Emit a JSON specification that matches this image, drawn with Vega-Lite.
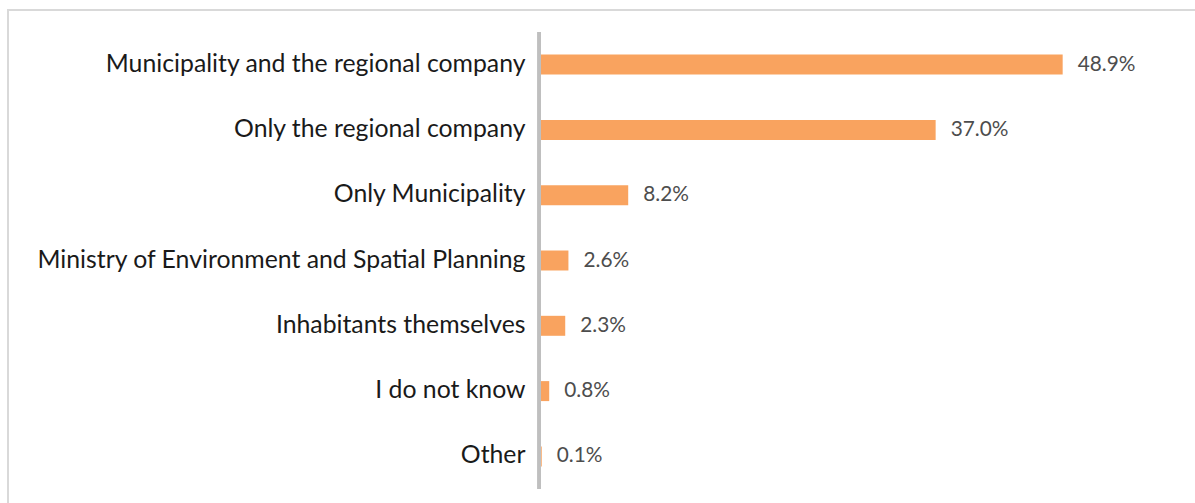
{
  "$schema": "https://vega.github.io/schema/vega-lite/v6.json",
  "width": 1188,
  "height": 501,
  "padding": {"left": 8, "top": 10, "right": 0, "bottom": 0},
  "autosize": {"type": "none"},
  "background": "white",
  "config": {
    "view": {"stroke": "#D9D9D9", "strokeWidth": 2},
    "font": "Lato"
  },
  "data": {
    "values": [
      {"category": "Municipality and the regional company", "share": 0.489},
      {"category": "Only the regional company", "share": 0.370},
      {"category": "Only Municipality", "share": 0.082},
      {"category": "Ministry of Environment and Spatial Planning", "share": 0.026},
      {"category": "Inhabitants themselves", "share": 0.023},
      {"category": "I do not know", "share": 0.008},
      {"category": "Other", "share": 0.001}
    ]
  },
  "encoding": {
    "y": {
      "field": "category",
      "type": "nominal",
      "sort": null,
      "scale": {"paddingInner": 0, "paddingOuter": 0.336},
      "axis": {
        "title": null,
        "orient": "left",
        "offset": -533,
        "domain": false,
        "ticks": false,
        "labelPadding": 16,
        "labelFontSize": 24.8,
        "labelColor": "#1a1a1a",
        "labelFont": "Lato",
        "labelLimit": 0
      }
    }
  },
  "layer": [
    {
      "mark": {"type": "bar", "height": {"band": 0.306}, "color": "#F9A35F"},
      "encoding": {
        "x": {
          "field": "share",
          "type": "quantitative",
          "scale": {"domain": [-0.499, 0.6139], "nice": false, "zero": false},
          "axis": null
        }
      }
    },
    {
      "mark": {"type": "text", "align": "left", "baseline": "middle", "dx": 15, "fontSize": 20.8, "color": "#4d4d4d", "font": "Lato"},
      "encoding": {
        "x": {"field": "share", "type": "quantitative"},
        "text": {"field": "share", "type": "quantitative", "format": ".1%"}
      }
    },
    {
      "mark": {"type": "rule", "color": "#BFBFBF", "strokeWidth": 3, "xOffset": -1.5},
      "encoding": {
        "x": {"datum": 0, "type": "quantitative"},
        "y": {"datum": "Municipality and the regional company", "bandPosition": 0},
        "y2": {"datum": "Other", "bandPosition": 1}
      }
    }
  ]
}
